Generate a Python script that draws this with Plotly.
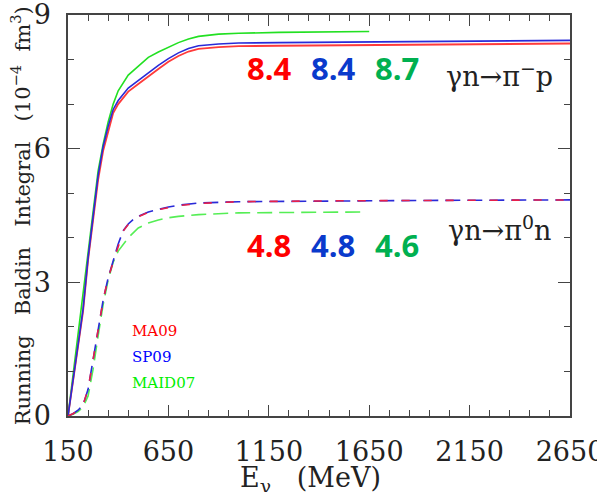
import plotly.graph_objects as go

# ---------------- data ----------------
# gamma n -> pi- p (solid)
e_ma09_pm = [150, 175, 200, 225, 250, 275, 300, 325, 350, 375, 400, 450, 500, 550, 600, 650, 700, 750, 800, 900, 1000, 1200, 1500, 1800, 2100, 2400, 2650]
y_ma09_pm = [0, 0.75, 1.5, 2.35, 3.5, 4.4, 5.3, 5.95, 6.4, 6.8, 7.0, 7.28, 7.45, 7.63, 7.79, 7.95, 8.08, 8.18, 8.24, 8.28, 8.30, 8.31, 8.32, 8.33, 8.34, 8.35, 8.36]

e_sp09_pm = [150, 175, 200, 225, 250, 275, 300, 325, 350, 375, 400, 450, 500, 550, 600, 650, 700, 750, 800, 900, 1000, 1200, 1500, 1800, 2100, 2400, 2650]
y_sp09_pm = [0, 0.78, 1.55, 2.4, 3.55, 4.5, 5.4, 6.05, 6.5, 6.88, 7.08, 7.36, 7.53, 7.71, 7.87, 8.02, 8.15, 8.25, 8.31, 8.35, 8.37, 8.38, 8.39, 8.40, 8.41, 8.42, 8.43]

e_maid_pm = [150, 175, 200, 225, 250, 275, 300, 325, 350, 375, 400, 450, 500, 550, 600, 650, 700, 750, 800, 900, 1000, 1200, 1400, 1650]
y_maid_pm = [0, 0.9, 1.87, 2.8, 3.73, 4.6, 5.5, 6.1, 6.6, 7.0, 7.3, 7.65, 7.85, 8.05, 8.17, 8.28, 8.38, 8.46, 8.52, 8.57, 8.59, 8.61, 8.62, 8.63]

# gamma n -> pi0 n (dashed)
e_ma09_0 = [150, 175, 200, 225, 250, 275, 300, 325, 350, 375, 400, 425, 450, 475, 500, 550, 600, 650, 700, 800, 1000, 1500, 2000, 2650]
y_ma09_0 = [0, 0.05, 0.13, 0.25, 0.6, 1.26, 1.95, 2.6, 3.1, 3.45, 3.85, 4.15, 4.3, 4.4, 4.47, 4.57, 4.63, 4.68, 4.72, 4.77, 4.81, 4.83, 4.84, 4.85]

e_sp09_0 = [150, 175, 200, 225, 250, 275, 300, 325, 350, 375, 400, 425, 450, 475, 500, 550, 600, 650, 700, 800, 1000, 1500, 2000, 2650]
y_sp09_0 = [0, 0.05, 0.13, 0.25, 0.6, 1.26, 1.95, 2.6, 3.1, 3.46, 3.86, 4.16, 4.31, 4.41, 4.48, 4.58, 4.64, 4.69, 4.73, 4.78, 4.81, 4.83, 4.84, 4.85]

e_maid_0 = [150, 175, 200, 225, 250, 275, 300, 325, 350, 375, 400, 450, 500, 550, 600, 650, 700, 800, 1000, 1300, 1640]
y_maid_0 = [0, 0.04, 0.1, 0.2, 0.45, 1.05, 1.8, 2.5, 3.05, 3.45, 3.7, 4.0, 4.22, 4.33, 4.4, 4.45, 4.48, 4.52, 4.56, 4.57, 4.58]

x_ticks = [150, 650, 1150, 1650, 2150, 2650]
y_ticks = [0, 3, 6, 9]

integrals_pm = ["8.4", "8.4", "8.7"]
integrals_0 = ["4.8", "4.8", "4.6"]
models = ["MA09", "SP09", "MAID07"]

RED = "#ff3a3a"
BLUE = "#2a2ad8"
GREEN = "#22e022"

fig = go.Figure()
fig.add_trace(go.Scatter(x=e_maid_pm, y=y_maid_pm, mode="lines", line=dict(color=GREEN, width=1.6)))
fig.add_trace(go.Scatter(x=e_ma09_pm, y=y_ma09_pm, mode="lines", line=dict(color=RED, width=1.8)))
fig.add_trace(go.Scatter(x=e_sp09_pm, y=y_sp09_pm, mode="lines", line=dict(color=BLUE, width=1.6)))
fig.add_trace(go.Scatter(x=e_maid_0, y=y_maid_0, mode="lines", line=dict(color="#55ee55", width=1.6, dash="15px,7px")))
fig.add_trace(go.Scatter(x=e_sp09_0, y=y_sp09_0, mode="lines", line=dict(color=BLUE, width=1.6, dash="15px,7px")))
fig.add_trace(go.Scatter(x=e_ma09_0, y=y_ma09_0, mode="lines", line=dict(color="#e8204a", width=1.6, dash="8px,14px")))

axis_col = "#444444"
tickfont = dict(family="DejaVu Serif", size=27, color="#222222")

fig.update_xaxes(range=[150, 2650], tickvals=x_ticks, ticktext=[str(v) for v in x_ticks],
                 ticks="inside", ticklen=11, tickwidth=1.2, tickcolor=axis_col,
                 showline=True, linecolor=axis_col, linewidth=1.5, mirror="allticks",
                 showgrid=False, zeroline=False, tickfont=tickfont, ticklabelstandoff=11,
                 ticklabeloverflow="allow", automargin=False,
                 minor=dict(tick0=150, dtick=100, ticks="inside", ticklen=6, tickwidth=1.1, tickcolor=axis_col, showgrid=False))
fig.update_yaxes(range=[0, 9], tickvals=y_ticks, ticktext=[str(v) for v in y_ticks],
                 ticks="inside", ticklen=12, tickwidth=1.2, tickcolor=axis_col,
                 showline=True, linecolor=axis_col, linewidth=1.5, mirror="allticks",
                 showgrid=False, zeroline=False, tickfont=tickfont, ticklabelstandoff=10,
                 ticklabeloverflow="allow", automargin=False,
                 minor=dict(tick0=0, dtick=1, ticks="inside", ticklen=6, tickwidth=1.1, tickcolor=axis_col, showgrid=False))

ann = []
num_cols = ["#ff0000", "#0a3acc", "#00b050"]
num_x = [1152, 1470, 1790]
for i in range(3):
    ann.append(dict(x=num_x[i], y=7.8, xref="x", yref="y", text="<b>" + integrals_pm[i] + "</b>",
                    showarrow=False, font=dict(family="Open Sans", size=31, color=num_cols[i])))
    ann.append(dict(x=num_x[i], y=3.83, xref="x", yref="y", text="<b>" + integrals_0[i] + "</b>",
                    showarrow=False, font=dict(family="Open Sans", size=31, color=num_cols[i])))

ann.append(dict(x=2300, y=7.66, xref="x", yref="y", text="γn→π<sup>−</sup>p", showarrow=False,
                font=dict(family="DejaVu Serif", size=27, color="#222222")))
ann.append(dict(x=2300, y=4.2, xref="x", yref="y", text="γn→π<sup>0</sup>n", showarrow=False,
                font=dict(family="DejaVu Serif", size=27, color="#222222")))

leg_cols = ["#ff0000", "#0000ff", "#00ee00"]
leg_y = [1.9, 1.32, 0.74]
for i in range(3):
    ann.append(dict(x=460, y=leg_y[i], xref="x", yref="y", text=models[i], xanchor="left", showarrow=False,
                    font=dict(family="DejaVu Serif", size=15, color=leg_cols[i])))

ann.append(dict(x=-0.094, y=0.5, xref="paper", yref="paper", xanchor="center", yanchor="middle",
                text="Running   Baldin   Integral   (10<sup>−4</sup>  fm<sup>3</sup>)",
                textangle=-90, showarrow=False, font=dict(family="DejaVu Serif", size=21, color="#222222")))
ann.append(dict(x=0.484, y=-0.11, xref="paper", yref="paper", xanchor="center", yanchor="top", text="E<sub>γ</sub>   (MeV)",
                showarrow=False, font=dict(family="DejaVu Serif", size=27, color="#222222")))

fig.update_layout(width=597, height=492, margin=dict(l=68, r=27, t=15, b=76),
                  plot_bgcolor="white", paper_bgcolor="white", showlegend=False, annotations=ann)

fig.write_html("out.html")
